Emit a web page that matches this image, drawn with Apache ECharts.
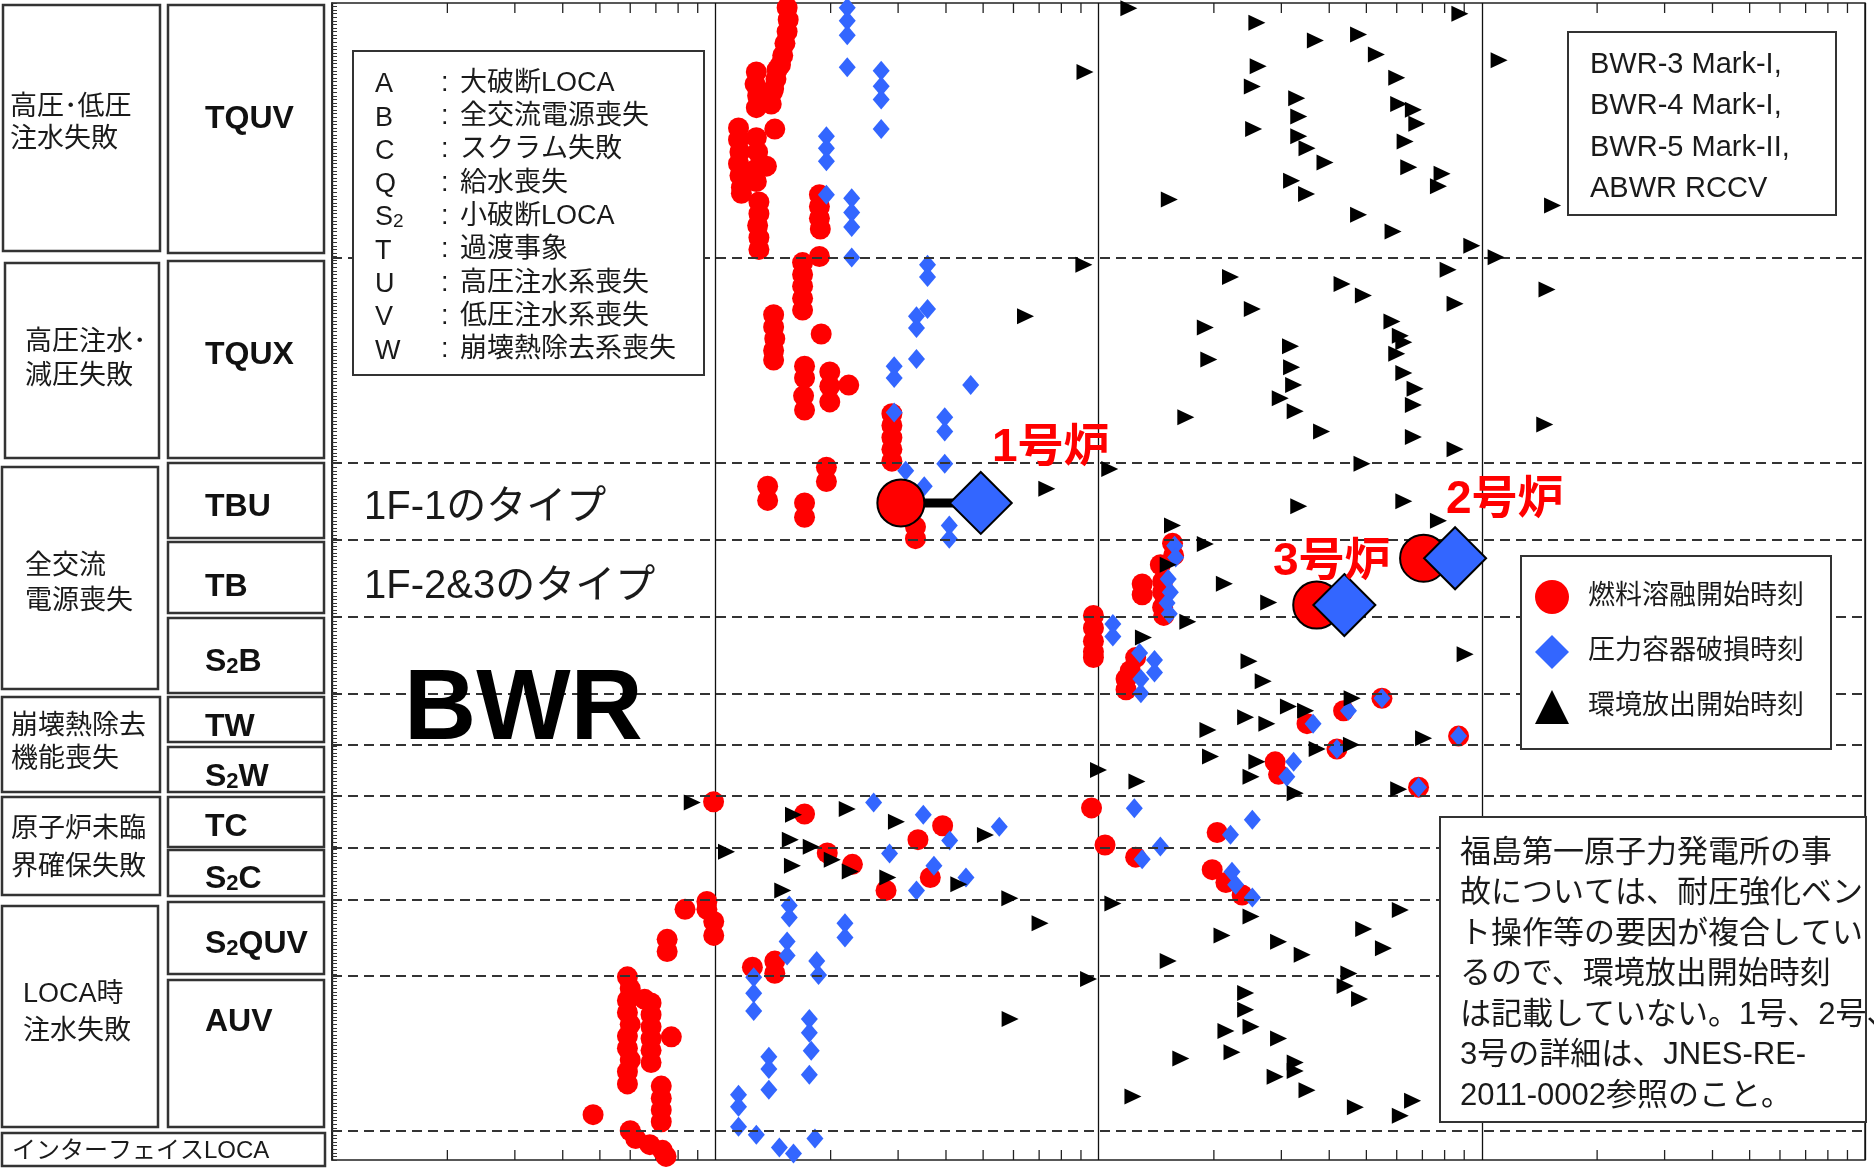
<!DOCTYPE html>
<html>
<head>
<meta charset="utf-8">
<script src="https://cdn.jsdelivr.net/npm/echarts@6/dist/echarts.min.js"></script>
<style>
html, body { margin: 0; padding: 0; background: #fff; }
#main { width: 1874px; height: 1168px; }
</style>
</head>
<body>
<div id="main"></div>
<script>
const FONT = '"Liberation Sans", "Noto Sans CJK JP", sans-serif';

// y: sequence row index (top = 0), x: time on log scale
const groupBounds = [71.3, 128.8, 150.2, 171.9, 193.5, 207.8, 222, 236.5, 251.1, 272.5, 315.7];

const seqNames = ['TQUV', 'TQUX', 'TBU', 'TB', 'S2B', 'TW', 'S2W', 'TC', 'S2C', 'S2QUV', 'AUV'];
const groupNames = [
  ['高圧･低圧', '注水失敗'],
  ['高圧注水･', '減圧失敗'],
  ['全交流', '電源喪失'],
  ['崩壊熱除去', '機能喪失'],
  ['原子炉未臨', '界確保失敗'],
  ['LOCA時', '注水失敗']
];
const interfaceName = 'インターフェイスLOCA';

const abbrevKeys = ['A', 'B', 'C', 'Q', 'S2', 'T', 'U', 'V', 'W'];
const abbrevText = ['大破断LOCA', '全交流電源喪失', 'スクラム失敗', '給水喪失', '小破断LOCA',
  '過渡事象', '高圧注水系喪失', '低圧注水系喪失', '崩壊熱除去系喪失'];

const plantTypes = ['BWR-3 Mark-I,', 'BWR-4 Mark-I,', 'BWR-5 Mark-II,', 'ABWR RCCV'];
const noteLines = [
  '福島第一原子力発電所の事',
  '故については、耐圧強化ベン',
  'ト操作等の要因が複合してい',
  'るので、環境放出開始時刻',
  'は記載していない。1号、2号、',
  '3号の詳細は、JNES-RE-',
  '2011-0002参照のこと。'
];

const seriesNames = ['燃料溶融開始時刻', '圧力容器破損時刻', '環境放出開始時刻'];

// 燃料溶融開始時刻
const meltPoints = [
  [1.54, 1.3], [1.55, 4.7], [1.54, 8], [1.52, 11.3], [1.50, 14.7], [1.48, 17.3],
  [1.45, 18.7], [1.44, 21.3], [1.42, 24],
  [1.28, 19.3], [1.27, 22.7], [1.29, 26], [1.28, 29.3],
  [1.41, 25], [1.40, 28.3], [1.43, 35.3],
  [1.15, 35], [1.15, 38.3], [1.16, 41.7], [1.15, 45], [1.16, 48.3], [1.17, 51.7], [1.17, 53.3],
  [1.28, 37.7], [1.29, 41.7], [1.27, 46.7], [1.28, 50], [1.36, 45.7],
  [1.30, 55.7], [1.30, 59], [1.29, 62.3], [1.30, 65.7], [1.30, 69],
  [1.87, 53.7], [1.87, 57], [1.87, 60.3], [1.88, 63.3], [1.87, 71],
  [1.69, 72.7], [1.69, 76], [1.69, 79.3], [1.69, 82.7], [1.69, 86],
  [1.42, 87.3], [1.42, 90.7], [1.43, 94], [1.42, 97.3], [1.42, 100],
  [1.89, 92.7],
  [1.71, 101.7], [1.71, 105], [1.70, 110], [1.71, 114],
  [1.99, 103.3], [1.99, 107.3], [1.99, 111.7], [2.23, 107],
  [2.89, 115], [2.89, 118.3], [2.89, 121.7], [2.89, 125], [2.89, 128.3],
  [1.95, 130], [1.95, 134], [1.37, 135.3], [1.37, 139.3], [1.71, 140], [1.71, 144], [3.33, 146.7], [3.33, 150],
  [15.6, 151.3], [15.7, 154.7], [14.5, 157.3], [13.0, 162.7], [13.0, 165.7], [14.7, 162], [14.7, 165], [14.7, 169.2], [14.8, 171.5],
  [9.70, 171.5], [9.70, 175], [9.70, 178.7], [9.70, 181.7], [9.70, 183.3], [12.5, 183.3], [12.1, 187], [11.8, 189.3], [11.8, 192.3],
  [54.9, 194.7], [43.6, 198.2], [35.0, 201.8], [87.0, 205.3],
  [41.9, 208.9], [28.9, 212.5], [29.5, 216], [68.4, 219.6],
  [0.99, 223.7], [1.71, 227.1], [3.92, 230.4], [3.38, 234.3], [9.59, 225.4], [10.4, 235.8], [20.4, 232.3],
  [12.5, 239.2], [1.96, 238], [2.28, 241.2], [3.64, 244.9], [2.79, 248.5], [19.8, 242.7], [21.5, 246.3], [23.7, 249.8],
  [0.834, 253.8], [0.951, 251.6], [0.951, 253.8], [0.991, 257.2], [0.991, 261.1], [0.749, 262.2], [0.749, 265.6],
  [1.25, 270], [1.43, 268.3], [1.43, 271.7],
  [0.59, 272.7], [0.6, 276], [0.59, 279.3], [0.59, 282.7], [0.6, 286], [0.59, 289.3], [0.59, 292.7], [0.6, 296],
  [0.59, 299.3], [0.59, 302.7],
  [0.68, 280], [0.68, 283.3], [0.68, 286.7], [0.68, 290], [0.68, 293.3], [0.68, 296.7], [0.654, 279], [0.768, 289.5],
  [0.723, 303.3], [0.723, 306.7], [0.723, 310], [0.723, 313.3], [0.48, 311.3],
  [0.6, 315.8], [0.62, 318], [0.675, 319.7], [0.728, 321.3], [0.744, 323]
];

// 圧力容器破損時刻
const breachPoints = [
  [2.21, 1.3], [2.21, 5], [2.21, 9], [2.21, 18], [2.71, 19], [2.71, 23.3], [2.71, 27], [2.71, 35.3],
  [1.95, 37.3], [1.95, 40.7], [1.95, 44.3], [1.95, 53.7], [2.27, 54.7], [2.27, 58.7], [2.27, 62.7], [2.27, 71.3],
  [3.58, 73.3], [3.58, 76.7], [3.58, 85.7], [3.35, 87.7], [3.35, 91], [3.35, 99.7], [2.93, 101.7], [2.93, 105],
  [4.64, 107], [2.93, 114.7], [3.97, 116], [3.97, 120], [3.97, 129],
  [3.14, 131], [3.51, 135.3], [4.08, 146.3], [4.08, 150],
  [15.8, 152], [15.9, 155.3], [15.2, 161.3], [15.4, 165], [15.1, 168], [15.3, 171],
  [10.9, 173.9], [10.9, 177.4], [12.8, 182], [14.0, 184], [14.0, 187.5], [12.9, 189.3], [12.9, 193.3],
  [54.9, 194.7], [44.9, 198.2], [36.3, 201.8], [87.0, 205.3],
  [41.9, 208.9], [32.3, 212.5], [31.0, 216.7], [68.4, 219.6],
  [2.59, 223.9], [3.49, 227.3], [5.51, 230.7], [4.09, 234.5], [12.4, 225.5], [22.1, 232.9], [25.2, 228.7],
  [13.0, 239.8], [14.5, 236.2], [2.85, 238.2], [3.72, 241.6], [4.51, 244.9], [3.35, 248.5],
  [22.3, 243.3], [22.8, 246.9], [25.2, 250.5],
  [1.56, 252.7], [1.56, 256.1], [1.54, 262.8], [1.54, 266.7], [2.18, 257.7], [2.18, 261.7], [1.84, 268.3], [1.86, 272.2],
  [1.26, 272.8], [1.26, 277.3], [1.26, 282.3], [1.76, 284.5], [1.76, 288.4], [1.78, 293.4], [1.76, 300.1],
  [1.38, 295.1], [1.38, 298.5], [1.38, 304.3], [1.15, 305.7], [1.15, 309.1],
  [1.15, 314.7], [1.28, 316.9], [1.47, 320.5], [1.60, 322.2], [1.82, 318]
];

// 環境放出開始時刻
const releasePoints = [
  [12.0, 1.5], [25.9, 5.5], [36.8, 10.5], [47.7, 8.8], [53.1, 14.4], [60.0, 20.9], [87.7, 3], [26.1, 17.7],
  [25.2, 23.4], [25.4, 35.3], [32.9, 26.7], [33.3, 31.8], [33.3, 37.3], [35.0, 40.7], [39.0, 44.7], [60.7, 28.3],
  [66.3, 29.9], [67.7, 33.8], [63.1, 38.8], [64.5, 46], [78.8, 47.8], [77.1, 51.3], [31.9, 49.8], [34.9, 53.5],
  [15.3, 55], [47.7, 59.3], [58.7, 64], [94.2, 68], [111, 16], [153, 56.7], [9.22, 19.3], [109, 71.2],
  [9.16, 73.3], [22.1, 76.7], [81.7, 74.7], [148, 80.2], [43.2, 78.7], [49.1, 81.9], [85.2, 84.2], [25.2, 85.7],
  [19.0, 90.9], [19.4, 99.8], [58.3, 89.2], [61.3, 93.2], [62.6, 95], [60.0, 98.2], [62.6, 103.6], [67.0, 108],
  [66.3, 112.6], [31.7, 96.1], [31.9, 102], [32.3, 107], [29.8, 110.7], [32.6, 114.3], [16.9, 116], [38.2, 120],
  [66.3, 121.5], [85.2, 125], [146, 118], [48.7, 129], [10.7, 130.5], [6.45, 87.7],
  [7.33, 136], [33.3, 140.9], [62.6, 139.5], [77.1, 145], [15.6, 146.3],
  [19.0, 151.5], [15.2, 157.3], [21.3, 162.6], [27.8, 167.9],
  [17.1, 173.3], [13.1, 177.7], [24.7, 184.3], [26.9, 189.9], [90.5, 182.4],
  [45.9, 194.7], [31.3, 197], [34.7, 198.2], [24.2, 200], [27.5, 201.8], [19.3, 203.6], [70.5, 205.9], [37.2, 208.9], [45.7, 207.7],
  [19.6, 211], [25.9, 212.5], [25.0, 216.7], [32.6, 221.3], [60.7, 220.2], [10.0, 214.8], [12.6, 218],
  [0.871, 223.9], [1.60, 227.3], [2.21, 225.7], [2.97, 229.3], [5.07, 233], [1.57, 234.3], [1.78, 236.3], [1.07, 237.7],
  [1.59, 241.6], [2.02, 239.9], [2.25, 243.2], [2.82, 244.9], [4.32, 246.8], [1.50, 248.5], [5.87, 250.7],
  [10.9, 252.2], [7.04, 257.7], [25.0, 255.8], [21.0, 261.1], [29.5, 262.9], [34.0, 266.5], [15.2, 268.3],
  [61.3, 254], [49.2, 259.3], [55.4, 264.7], [45.0, 271.8],
  [9.42, 273.3], [5.88, 284.5], [24.2, 277.2], [24.2, 281.9], [25.0, 286.7], [21.5, 287.9], [22.3, 293.8],
  [16.4, 295.6], [29.5, 290], [32.6, 296.7], [32.6, 299.1], [28.9, 300.7], [35.0, 304.5], [12.3, 306.2],
  [46.8, 309.2], [66.0, 307.4], [61.3, 311.6], [44.0, 275.3], [48.0, 278.9]
];

// 1号炉, 2号炉, 3号炉
const reactorNames = ['1号炉', '2号炉', '3号炉'];
const reactorMelt = [[3.05, 140], [70.5, 155.5], [37.1, 168.6]];
const reactorBreach = [[4.93, 140], [85.2, 155.5], [43.8, 168.6]];

// minor ticks 2..9 in every decade
const decades = [0.1, 1, 10, 100];
const minorTicks = [];
decades.forEach(d => { for (let k = 2; k <= 9; k++) minorTicks.push([+(d * k).toPrecision(3), 0]); });

const chart = echarts.init(document.getElementById('main'));

function txt(text, x, y, size, extra) {
  return {
    type: 'text', z: 20,
    style: Object.assign({
      text: text, x: x, y: y, fontSize: size, fontFamily: FONT, fill: '#1a1a1a',
      align: 'left', verticalAlign: 'middle', textAlign: 'left', textVerticalAlign: 'middle'
    }, extra || {})
  };
}
function box(x, y, w, h, extra) {
  return {
    type: 'rect', z: 19,
    shape: { x: x, y: y, width: w, height: h },
    style: Object.assign({ fill: '#fff', stroke: '#333', lineWidth: 2.5 }, extra || {})
  };
}
function sub2(str, key) {
  return str.split('S2').map(p => p ? '{' + key + '|' + p + '}' : '').join('{' + key + '|S}{' + key + 'Sub|2}');
}

// left side boxes
const col1Boxes = [[3, 5, 157, 246], [5, 263, 154, 195], [2, 467, 156, 222], [2, 697, 158, 95], [2, 797, 158, 98], [2, 906, 156, 221]];
const col1Text = [[10, 108, 140], [25, 343, 377], [25, 567, 602], [11, 727, 760], [11, 830, 868], [23, 995, 1032]];
const col2Boxes = [[5, 253], [261, 458], [463, 538], [542, 613], [618, 693], [697, 742], [747, 792], [797, 847], [850, 896], [902, 974], [980, 1127]];
const col2TextY = [117, 353, 505, 585, 660, 725, 775, 825, 877, 942, 1020];

const graphics = [];
col1Boxes.forEach((b, i) => {
  graphics.push(box(b[0], b[1], b[2], b[3]));
  graphics.push(txt(groupNames[i][0], col1Text[i][0], col1Text[i][1], 27));
  graphics.push(txt(groupNames[i][1], col1Text[i][0], col1Text[i][2], 27));
});
col2Boxes.forEach((b, i) => {
  graphics.push(box(168, b[0], 156, b[1] - b[0]));
  graphics.push({
    type: 'text', z: 20,
    style: {
      text: sub2(seqNames[i], 'b'), x: 205, y: col2TextY[i],
      align: 'left', verticalAlign: 'middle', textAlign: 'left', textVerticalAlign: 'middle',
      rich: {
        b: { fontSize: 32, fontWeight: 'bold', fontFamily: FONT, fill: '#111', lineHeight: 36, verticalAlign: 'bottom' },
        bSub: { fontSize: 22, fontWeight: 'bold', fontFamily: FONT, fill: '#111', lineHeight: 28, verticalAlign: 'bottom' }
      }
    }
  });
});
graphics.push(box(2, 1133, 323, 33));
graphics.push(txt(interfaceName, 12, 1151, 24));

// abbreviation box
graphics.push(box(353, 51, 351, 324, { lineWidth: 2 }));
abbrevKeys.forEach((k, i) => {
  const y = 83.3 + i * 33.3;
  graphics.push({
    type: 'text', z: 20,
    style: {
      text: sub2(k, 'k'), x: 375, y: y,
      align: 'left', verticalAlign: 'middle', textAlign: 'left', textVerticalAlign: 'middle',
      rich: {
        k: { fontSize: 27, fontFamily: FONT, fill: '#1a1a1a', lineHeight: 30, verticalAlign: 'bottom' },
        kSub: { fontSize: 19, fontFamily: FONT, fill: '#1a1a1a', lineHeight: 25, verticalAlign: 'bottom' }
      }
    }
  });
  graphics.push(txt(':', 441, y, 27));
  graphics.push(txt(abbrevText[i], 460, y, 27));
});

// plant type box
graphics.push(box(1568, 32, 268, 183, { lineWidth: 2 }));
graphics.push(txt(plantTypes.join('\n'), 1590, 44, 29, { verticalAlign: 'top', textVerticalAlign: 'top', lineHeight: 41.5 }));

// legend box frame
graphics.push(box(1521, 556, 310, 193, { lineWidth: 2 }));

// note box
graphics.push(box(1440, 817, 426, 305, { lineWidth: 2 }));
graphics.push(txt(noteLines.join('\n'), 1460, 833, 31, { verticalAlign: 'top', textVerticalAlign: 'top', lineHeight: 40.5 }));

// plot annotations
graphics.push(txt('1F-1のタイプ', 364, 508, 40));
graphics.push(txt('1F-2&3のタイプ', 364, 587, 40));
graphics.push(txt('BWR', 404, 711, 100, { fontWeight: 'bold', fill: '#000' }));
const reactorLabelPos = [[992, 448], [1446, 500], [1273, 562]];
reactorNames.forEach((n, i) => {
  graphics.push(txt(n, reactorLabelPos[i][0], reactorLabelPos[i][1], 46, { fontWeight: 'bold', fill: '#ff0000' }));
});

const option = {
  animation: false,
  backgroundColor: '#fff',
  grid: { left: 332, top: 3, right: 9, bottom: 8, show: true, borderColor: '#222', borderWidth: 1.5 },
  xAxis: {
    type: 'log', logBase: 10, min: 0.1, max: 1000, splitNumber: 4,
    axisLine: { show: false }, axisTick: { show: false }, axisLabel: { show: false },
    splitLine: { show: true, lineStyle: { color: '#111', width: 1.3 } }
  },
  yAxis: {
    type: 'value', inverse: true, min: 0, max: 324, interval: 1,
    axisLine: { show: true, lineStyle: { color: '#222', width: 1.5 } },
    axisTick: { show: true, inside: true, length: 5, lineStyle: { color: '#333', width: 1 } },
    axisLabel: { show: false }, splitLine: { show: false }
  },
  legend: {
    orient: 'vertical', left: 1535, top: 580, padding: 0,
    itemWidth: 34, itemHeight: 34, itemGap: 21, symbolRotate: 0, z: 30,
    selectedMode: false,
    textStyle: { fontSize: 27, fontFamily: FONT, color: '#1a1a1a', padding: [0, 0, 0, 14] },
    data: [
      { name: seriesNames[0], icon: 'circle' },
      { name: seriesNames[1], icon: 'diamond' },
      { name: seriesNames[2], icon: 'triangle', symbolRotate: 0 }
    ]
  },
  graphic: graphics,
  series: [
    {
      type: 'line', data: [], silent: true, z: 1,
      markLine: {
        silent: true, symbol: 'none', label: { show: false },
        lineStyle: { color: '#333', width: 2.2, type: [10, 6] },
        data: groupBounds.map(v => ({ yAxis: v }))
      }
    },
    {
      type: 'custom', silent: true, z: 2, data: minorTicks, encode: { x: 0, y: 1 },
      renderItem: (params, api) => {
        const cs = params.coordSys;
        const x = api.coord([api.value(0), 0])[0];
        return {
          type: 'group', children: [
            { type: 'line', shape: { x1: x, y1: cs.y, x2: x, y2: cs.y + 10 }, style: { stroke: '#222', lineWidth: 1.3 } },
            { type: 'line', shape: { x1: x, y1: cs.y + cs.height, x2: x, y2: cs.y + cs.height - 10 }, style: { stroke: '#222', lineWidth: 1.3 } }
          ]
        };
      }
    },
    {
      name: seriesNames[0], type: 'scatter', data: meltPoints, z: 3,
      symbol: 'circle', symbolSize: 21, itemStyle: { color: '#ff0000', opacity: 1 }
    },
    {
      name: seriesNames[1], type: 'scatter', data: breachPoints, z: 4,
      symbol: 'diamond', symbolSize: [17, 20], itemStyle: { color: '#3366ff', opacity: 1 }
    },
    {
      name: seriesNames[2], type: 'scatter', data: releasePoints, z: 5,
      symbol: 'triangle', symbolRotate: -90, symbolSize: [16, 17], itemStyle: { color: '#000', opacity: 1 }
    },
    {
      type: 'line', data: [reactorMelt[0], reactorBreach[0]], z: 6, silent: true,
      symbol: 'none', lineStyle: { color: '#000', width: 9 }
    },
    {
      type: 'scatter', data: reactorMelt, z: 7, symbol: 'circle', symbolSize: 47,
      itemStyle: { color: '#ff0000', borderColor: '#000', borderWidth: 2, opacity: 1 }
    },
    {
      type: 'scatter', data: reactorBreach, z: 8, symbol: 'diamond', symbolSize: 62,
      itemStyle: { color: '#3366ff', borderColor: '#000', borderWidth: 2, opacity: 1 }
    }
  ]
};

chart.setOption(option);
</script>
</body>
</html>
